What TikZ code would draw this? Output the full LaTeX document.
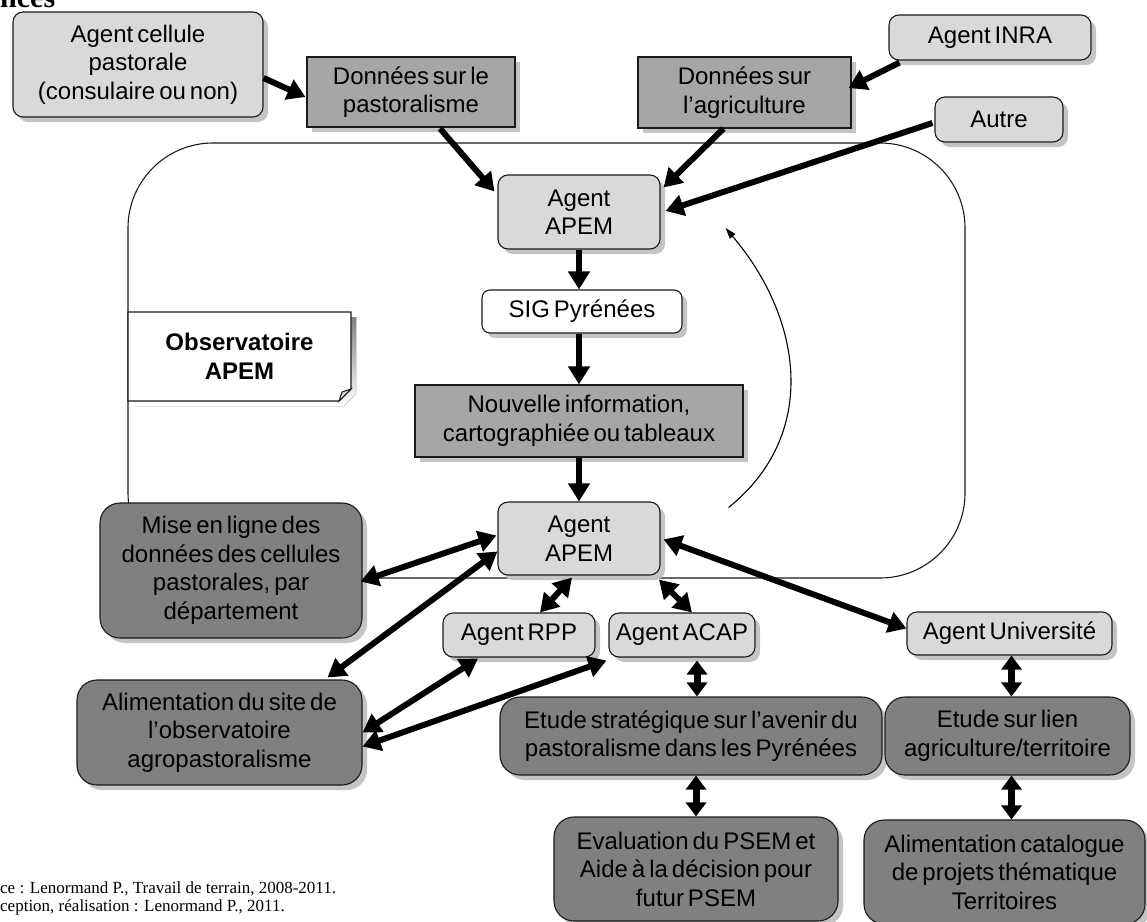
\documentclass[tikz,border=0pt]{standalone}
\usepackage{fontspec}
\setmainfont{Liberation Sans}[WordSpace=0.6]
\newfontfamily\serifnote{Liberation Serif}
\usetikzlibrary{arrows.meta,shadows,calc}
\definecolor{light}{HTML}{D9D9D9}
\definecolor{mid}{HTML}{A6A6A6}
\definecolor{dark}{HTML}{808080}
\definecolor{shade}{HTML}{C4C4C4}
\definecolor{edge}{HTML}{1A1A1A}
\tikzset{
  sz/.style 2 args={minimum width=#1pt, minimum height=#2pt},
  box/.style={draw=edge, line width=1.1pt, align=center, inner sep=0pt,
    font=\fontsize{24}{28.5}\selectfont, text=black,
    drop shadow={shadow xshift=5pt,shadow yshift=-5pt,fill=shade,opacity=1}},
  agent/.style={box, fill=light, rounded corners=10pt},
  donnee/.style={box, fill=mid},
  result/.style={box, fill=dark, rounded corners=20pt},
  plainbox/.style={box, fill=white, rounded corners=8pt},
  arr/.style={line width=6pt, -{Triangle[length=18pt,width=21pt]}},
  dbl/.style={line width=6pt, {Triangle[length=18pt,width=21pt]}-{Triangle[length=18pt,width=21pt]}},
  vdbl/.style={line width=7pt, {Triangle[length=14pt,width=20pt]}-{Triangle[length=14pt,width=20pt]}},
  thinarr/.style={line width=1.1pt, -{Triangle[length=11pt,width=7pt]}},
}
\begin{document}
\begin{tikzpicture}[x=1pt,y=-1pt]
\useasboundingbox (0,0) rectangle (1147,921);
% container
\node[draw=edge, line width=1.1pt, rounded corners=85pt, sz={837}{435}, inner sep=0pt] (obsv) at (546.5,360.5) {};
% note shape
\fill[shade] (133,317) -- (356,317) -- (356,394) -- (344,406) -- (133,406) -- cycle;
\draw[fill=white, draw=edge, line width=1.1pt] (128,312) -- (351,312) -- (351,389) -- (339,401) -- (128,401) -- cycle;
\draw[fill=light, draw=edge, line width=1pt] (351,389) -- (339,401) -- (342,392) -- cycle;
\node[font=\bfseries\fontsize{24}{28.5}\selectfont, align=center, inner sep=0pt] (obs) at (239.5,356.5) {Observatoire\\APEM};

% title fragment and source
\node[font=\serifnote\bfseries\fontsize{30}{30}\selectfont, anchor=base west, inner sep=0pt] (title) at (0,7) {nces};
\node[font=\serifnote\fontsize{17}{18.5}\selectfont, anchor=north west, align=left, inner sep=0pt] (src) at (0,881) {ce : Lenormand P., Travail de terrain, 2008-2011.\\ception, réalisation : Lenormand P., 2011.};

% nodes
\node[agent, sz={250}{105}] (cell) at (138,64.5) {Agent cellule\\pastorale\\(consulaire ou non)};
\node[donnee, sz={208}{70}] (dpast) at (411,92) {Données sur le\\pastoralisme};
\node[agent, sz={202}{45}] (inra) at (990,37.5) {Agent INRA};
\node[donnee, sz={213}{71}] (dagri) at (744.5,92.5) {Données sur\\l’agriculture};
\node[agent, sz={128}{45}] (autre) at (999,119.5) {Autre};
\node[agent, sz={162}{74}] (apem1) at (579,212) {Agent\\APEM};
\node[plainbox, sz={200}{43}] (sig) at (582,311.5) {SIG Pyrénées};
\node[donnee, sz={328}{72}] (nouv) at (579,421) {Nouvelle information,\\cartographiée ou tableaux};
\node[agent, sz={162}{73}] (apem2) at (579,538.5) {Agent\\APEM};
\node[result, sz={262}{135}] (mise) at (231,570.5) {Mise en ligne des\\données des cellules\\pastorales, par\\département};
\node[agent, sz={152}{44}] (rpp) at (519,635) {Agent RPP};
\node[agent, sz={146}{44}] (acap) at (682,635) {Agent ACAP};
\node[agent, sz={205}{43}] (univ) at (1009.5,633.5) {Agent Université};
\node[result, sz={285}{105}] (alim) at (219.5,732.5) {Alimentation du site de\\l’observatoire\\agropastoralisme};
\node[result, sz={382}{78}] (etude) at (691,736) {Etude stratégique sur l’avenir du\\pastoralisme dans les Pyrénées};
\node[result, sz={245}{78}] (lien) at (1007.5,736) {Etude sur lien\\agriculture/territoire};
\node[result, sz={284}{104}] (eval) at (696,869) {Evaluation du PSEM et\\Aide à la décision pour\\futur PSEM};
\node[result, sz={281}{104}] (cat) at (1004.5,872) {Alimentation catalogue\\de projets thématique\\Territoires};

% arrows in
\draw[arr] ($(cell.east)+(0,13.5)$) -- ($(dpast.west)+(-1,5)$);
\draw[arr] ($(dpast.south)+(29,1)$) -- ($(apem1.north west)+(-3,17)$);
\draw[arr] ($(dagri.south)+(-21,0)$) -- ($(apem1.north east)+(3,13)$);
\draw[arr] ($(inra.south west)+(11,2)$) -- ($(dagri.east)+(-3,-4.5)$);
\draw[arr] ($(autre.west)+(-2,3.5)$) -- ($(apem1.east)+(5,-1)$);
\draw[arr] (apem1.south) -- (apem1.south |- sig.north);
\draw[arr] (nouv.north |- sig.south) -- (nouv.north);
\draw[arr] (nouv.south) -- (apem2.north);
% feedback curve
\coordinate (cs) at ($(apem2.north east)+(68,6)$);
\coordinate (ce) at ($(apem1.east)+(65,16)$);
\draw[thinarr] (cs) .. controls ($(cs)+(90,-72)$) and ($(ce)+(78,92)$) .. (ce);
% double arrows
\draw[dbl] ($(apem2.west)+(-1,-3)$) -- ($(mise.east)+(-2,11)$);
\draw[dbl] ($(apem2.west)+(0,13)$) -- ($(alim.north)+(108,-2)$);
\draw[dbl] ($(apem2.south)+(-7,2)$) -- ($(rpp.north)+(21,0)$);
\draw[dbl] ($(apem2.south)+(80,4)$) -- ($(acap.north)+(10,0)$);
\draw[dbl] ($(apem2.east)+(3,1)$) -- ($(univ.west)+(0,-5)$);
\draw[dbl] ($(rpp.south)+(-41,1)$) -- (alim.east);
\draw[dbl] ($(acap.south west)+(-2,3)$) -- ($(alim.east)+(0,14)$);
% vertical double arrows
\coordinate (v1) at ($(acap.south)+(15,3)$);
\draw[vdbl] (v1) -- (v1 |- etude.north);
\draw[vdbl] (eval.north |- etude.south) -- (eval.north);
\coordinate (v3) at ($(univ.south)+(2,0)$);
\draw[vdbl] (v3) -- (v3 |- lien.north);
\draw[vdbl] (v3 |- lien.south) -- (v3 |- cat.north);
\end{tikzpicture}
\end{document}
